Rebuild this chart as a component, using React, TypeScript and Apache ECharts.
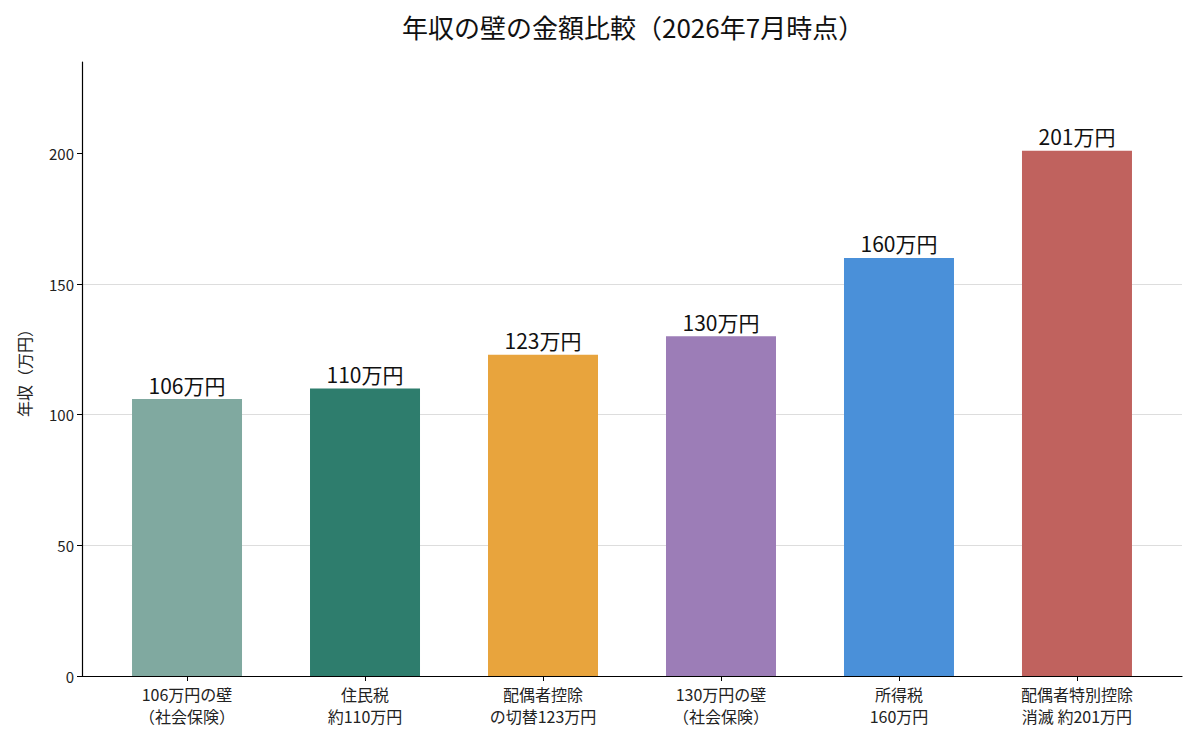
import React, { useEffect, useRef } from "react";
import * as echarts from "echarts";

const categories = [
  "106万円の壁\n（社会保険）",
  "住民税\n約110万円",
  "配偶者控除\nの切替123万円",
  "130万円の壁\n（社会保険）",
  "所得税\n160万円",
  "配偶者特別控除\n消滅 約201万円",
];
const values = [106, 110, 123, 130, 160, 201];
const barColors = ["#80A9A0", "#2E7D6D", "#E8A43D", "#9C7DB7", "#4A90D9", "#C0625E"];
const yTicks = [0, 50, 100, 150, 200];
const catPositions = [0, 1, 2, 3, 4, 5];

const FONT = "'Noto Sans CJK JP', 'Noto Sans', sans-serif";

export default function App() {
  const ref = useRef<HTMLDivElement>(null);
  useEffect(() => {
    document.body.style.margin = "0";
    const chart = echarts.init(ref.current!, null, { renderer: "svg" });
    chart.setOption({
      animation: false,
      textStyle: { fontFamily: FONT },
      title: {
        text: "年収の壁の金額比較（2026年7月時点）",
        left: 397,
        top: 8,
        textStyle: { fontSize: 26, fontWeight: "normal", color: "#111", fontFamily: FONT },
      },
      grid: { left: 82, right: 18, top: 62, bottom: 68 },
      xAxis: {
        type: "value",
        min: -0.59,
        max: 5.59,
        splitLine: { show: false },
        axisLine: { show: true, onZero: false, lineStyle: { color: "#000", width: 1.2 } },
        axisTick: { show: true, customValues: catPositions, length: 5, lineStyle: { color: "#000" } },
        axisLabel: {
          customValues: catPositions,
          formatter: (v: number) => categories[Math.round(v)] ?? "",
          fontSize: 16,
          lineHeight: 22,
          color: "#222",
          margin: 7,
          fontFamily: FONT,
        },
      },
      yAxis: {
        type: "value",
        min: 0,
        max: 235,
        interval: 50,
        name: "年収（万円）",
        nameLocation: "middle",
        nameGap: 50,
        nameRotate: 90,
        nameTextStyle: { fontSize: 16, color: "#222", fontFamily: FONT },
        axisLine: { show: true, onZero: false, lineStyle: { color: "#000", width: 1.2 } },
        axisTick: { show: true, customValues: yTicks, length: 5, lineStyle: { color: "#000" } },
        axisLabel: { customValues: yTicks, fontSize: 15, color: "#222", margin: 8, fontFamily: FONT },
        splitLine: { show: true, showMaxLine: false, showMinLine: false, lineStyle: { color: "#dddddd", width: 1 } },
      },
      series: [
        {
          type: "bar",
          barWidth: 110,
          data: values.map((v, i) => ({
            value: [catPositions[i], v],
            itemStyle: { color: barColors[i] },
          })),
          label: {
            show: true,
            position: "top",
            distance: 4,
            formatter: (p: any) => `${p.value[1]}万円`,
            fontSize: 21,
            color: "#111",
            fontFamily: FONT,
          },
        },
      ],
    });
    return () => chart.dispose();
  }, []);
  return <div ref={ref} style={{ width: 1200, height: 744 }} />;
}
